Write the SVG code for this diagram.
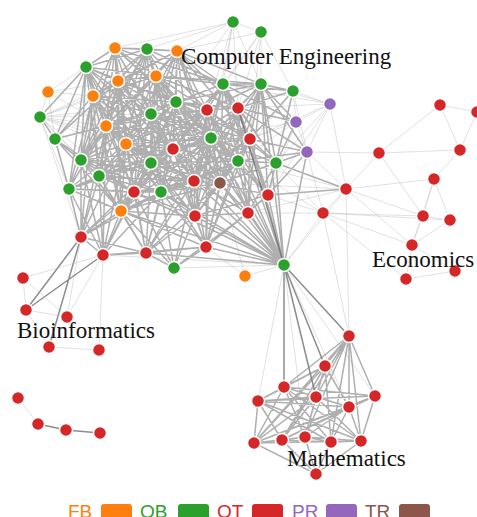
<svg xmlns="http://www.w3.org/2000/svg" width="477" height="517" viewBox="0 0 477 517">
<style>
.d{fill:none;stroke:#7a7a7a;stroke-opacity:.6;stroke-width:1.5}
.l{fill:none;stroke:#aaa;stroke-opacity:.35;stroke-width:1}
.m{fill:none;stroke:#666;stroke-opacity:.75;stroke-width:1.5}
circle{stroke:#fff;stroke-width:1.5}
.fb{fill:#ff7f0e}.ob{fill:#2ca02c}.ot{fill:#d62728}.pr{fill:#9467bd}.tr{fill:#8c564b}
.lab{font-family:"Liberation Serif","Times New Roman",serif;font-size:23px;fill:#111}
.leg{font-family:"Liberation Sans",Arial,sans-serif;font-size:19px}
</style>
<rect width="477" height="517" fill="#fff"/>
<g id="connectors">
<path class="d" d="M115 48L177 51M115 48L118 81M115 48L156 76M115 48L147 49M115 48L86 67M115 48L93 96M115 48L106 126M115 48L126 144M115 48L176 102M115 48L151 114M115 48L173 149M115 48L81 160M115 48L207 110M115 48L223 84M115 48L121 211M115 48L134 192M115 48L151 163M115 48L211 138
M177 51L147 49M177 51L156 76M177 51L223 84M177 51L261 84M177 51L176 102M177 51L207 110M177 51L238 108M177 51L151 114M177 51L118 81M177 51L93 96M177 51L173 149M177 51L211 138M177 51L126 144M177 51L250 139M177 51L106 126M177 51L194 181M177 51L151 163M177 51L220 183
M147 49L156 76M147 49L118 81M147 49L93 96M147 49L176 102M147 49L151 114M147 49L207 110M147 49L106 126M147 49L126 144M147 49L81 160M147 49L173 149M147 49L223 84M147 49L134 192M147 49L99 176M147 49L86 67
M86 67L118 81M86 67L93 96M86 67L106 126M86 67L40 117M86 67L55 139M86 67L81 160M86 67L156 76M86 67L151 114M86 67L126 144M86 67L176 102M86 67L173 149M86 67L99 176M86 67L69 189M86 67L134 192M86 67L151 163
M118 81L156 76M118 81L93 96M118 81L106 126M118 81L126 144M118 81L151 114M118 81L176 102M118 81L55 139M118 81L81 160M118 81L173 149M118 81L207 110M118 81L151 163M118 81L99 176M118 81L134 192M118 81L121 211M118 81L211 138M118 81L161 192M118 81L194 181
M156 76L176 102M156 76L151 114M156 76L207 110M156 76L238 108M156 76L223 84M156 76L126 144M156 76L106 126M156 76L93 96M156 76L173 149M156 76L211 138M156 76L151 163M156 76L81 160M156 76L261 84M156 76L250 139M156 76L194 181M156 76L238 161M156 76L220 183M156 76L161 192
M93 96L106 126M93 96L126 144M93 96L151 114M93 96L55 139M93 96L81 160M93 96L99 176M93 96L69 189M93 96L176 102M93 96L173 149M93 96L134 192M93 96L151 163M93 96L121 211M93 96L81 237
M106 126L126 144M106 126L151 114M106 126L55 139M106 126L81 160M106 126L99 176M106 126L69 189M106 126L173 149M106 126L151 163M106 126L134 192M106 126L121 211M106 126L176 102M106 126L207 110M106 126L211 138M106 126L194 181M106 126L161 192M106 126L81 237M106 126L103 255
M126 144L151 114M126 144L81 160M126 144L151 163M126 144L99 176M126 144L173 149M126 144L134 192M126 144L69 189M126 144L121 211M126 144L161 192M126 144L194 181M126 144L195 216M126 144L211 138M126 144L176 102M126 144L207 110M126 144L146 253M126 144L103 255M126 144L81 237M126 144L220 183
M176 102L151 114M176 102L207 110M176 102L238 108M176 102L223 84M176 102L261 84M176 102L173 149M176 102L211 138M176 102L151 163M176 102L250 139M176 102L238 161M176 102L194 181M176 102L220 183M176 102L161 192M176 102L134 192M176 102L99 176M176 102L121 211M176 102L195 216
M151 114L207 110M151 114L173 149M151 114L211 138M151 114L151 163M151 114L194 181M151 114L81 160M151 114L99 176M151 114L134 192M151 114L161 192M151 114L121 211M151 114L238 161M151 114L220 183M151 114L250 139M151 114L195 216M151 114L248 213M151 114L55 139
M223 84L261 84M223 84L207 110M223 84L238 108M223 84L211 138M223 84L250 139M223 84L238 161M223 84L293 91M223 84L173 149M223 84L151 163M223 84L194 181M223 84L220 183M223 84L268 195M223 84L276 163M223 84L296 122
M261 84L293 91M261 84L238 108M261 84L250 139M261 84L238 161M261 84L276 163M261 84L207 110M261 84L211 138M261 84L268 195M261 84L194 181M261 84L220 183M261 84L296 122M261 84L307 152M261 84L248 213
M207 110L238 108M207 110L211 138M207 110L173 149M207 110L250 139M207 110L151 163M207 110L194 181M207 110L220 183M207 110L238 161M207 110L276 163M207 110L134 192M207 110L161 192M207 110L195 216M207 110L248 213M207 110L268 195M207 110L121 211M207 110L99 176M207 110L206 247
M238 108L211 138M238 108L250 139M238 108L238 161M238 108L276 163M238 108L194 181M238 108L220 183M238 108L268 195M238 108L248 213M238 108L173 149M238 108L151 163M238 108L195 216M238 108L293 91M238 108L296 122M238 108L307 152M238 108L206 247
M211 138L173 149M211 138L250 139M211 138L151 163M211 138L238 161M211 138L194 181M211 138L220 183M211 138L161 192M211 138L134 192M211 138L195 216M211 138L248 213M211 138L268 195M211 138L276 163M211 138L99 176M211 138L121 211M211 138L206 247M211 138L146 253
M173 149L151 163M173 149L194 181M173 149L220 183M173 149L161 192M173 149L134 192M173 149L99 176M173 149L81 160M173 149L121 211M173 149L195 216M173 149L238 161M173 149L250 139M173 149L146 253M173 149L206 247M173 149L69 189M173 149L81 237
M250 139L238 161M250 139L276 163M250 139L194 181M250 139L220 183M250 139L268 195M250 139L248 213M250 139L195 216M250 139L307 152M250 139L293 91M250 139L161 192M250 139L206 247M250 139L284 265
M151 163L194 181M151 163L161 192M151 163L134 192M151 163L99 176M151 163L81 160M151 163L121 211M151 163L195 216M151 163L220 183M151 163L238 161M151 163L146 253M151 163L103 255M151 163L69 189M151 163L206 247
M81 160L99 176M81 160L69 189M81 160L134 192M81 160L121 211M81 160L55 139M81 160L81 237M81 160L161 192M81 160L103 255M81 160L194 181
M99 176L69 189M99 176L134 192M99 176L121 211M99 176L161 192M99 176L81 237M99 176L103 255M99 176L146 253M99 176L194 181M99 176L220 183
M238 161L276 163M238 161L220 183M238 161L194 181M238 161L268 195M238 161L248 213M238 161L195 216M238 161L161 192M238 161L206 247M238 161L284 265M238 161L307 152
M194 181L220 183M194 181L161 192M194 181L195 216M194 181L134 192M194 181L121 211M194 181L248 213M194 181L206 247M194 181L146 253M194 181L174 268
M220 183L268 195M220 183L248 213M220 183L195 216M220 183L161 192M220 183L206 247M220 183L276 163M220 183L284 265M220 183L146 253M220 183L121 211
M161 192L134 192M161 192L121 211M161 192L195 216M161 192L146 253M161 192L206 247M161 192L174 268M161 192L103 255M161 192L81 237
M134 192L121 211M134 192L195 216M134 192L146 253M134 192L103 255M134 192L81 237M134 192L69 189M134 192L174 268
M121 211L81 237M121 211L103 255M121 211L146 253M121 211L195 216M121 211L206 247M121 211L174 268M121 211L69 189
M195 216L248 213M195 216L206 247M195 216L146 253M195 216L174 268M195 216L284 265M195 216L268 195
M268 195L248 213M268 195L276 163M268 195L206 247M268 195L284 265M268 195L307 152M268 195L346 189
M248 213L206 247M248 213L284 265M248 213L174 268
M276 163L307 152M276 163L293 91M276 163L296 122M276 163L248 213M276 163L284 265M276 163L346 189
M55 139L40 117M55 139L69 189M55 139L99 176M55 139L121 211M55 139L134 192
M69 189L81 237M69 189L161 192M69 189L103 255
M81 237L103 255M81 237L146 253M103 255L146 253M103 255L206 247M146 253L174 268M146 253L206 247M206 247L174 268M206 247L284 265
M284 265L194 181M284 265L173 149M284 265L211 138M284 265L151 163M284 265L134 192M284 265L121 211M284 265L161 192M284 265L146 253M284 265L207 110M284 265L176 102M284 265L223 84M284 265L307 152M284 265L261 84"/>
<path class="m" d="M238 108L284 265M284 265L349 336M284 265L325 366M284 265L284 387M284 265L316 397M81 237L26 310M103 255L26 310M81 237L49 347M38 424L66 430M66 430L100 433"/>
<path class="l" d="M40 117L86 67M40 117L118 81M40 117L93 96M40 117L106 126M40 117L81 160M40 117L69 189M40 117L156 76M40 117L176 102M40 117L151 114M40 117L173 149M40 117L126 144M40 117L48 92M40 117L99 176M40 117L151 163M40 117L134 192
M48 92L86 67M48 92L93 96M48 92L118 81M48 92L106 126M48 92L55 139
M233 22L261 32M233 22L177 51M233 22L147 49M233 22L115 48M233 22L223 84M233 22L207 110M233 22L261 84M233 22L176 102M233 22L238 108M233 22L211 138
M261 32L177 51M261 32L223 84M261 32L261 84M261 32L238 108M261 32L293 91M261 32L207 110M261 32L250 139
M293 91L330 104M293 91L296 122M293 91L307 152M293 91L238 161M293 91L268 195M293 91L207 110
M330 104L296 122M330 104L307 152M330 104L261 84M330 104L238 108M330 104L276 163M330 104L250 139M330 104L223 84M330 104L346 189M330 104L268 195
M296 122L307 152M296 122L238 161M296 122L250 139M296 122L268 195M296 122L211 138
M307 152L346 189M307 152L323 213M307 152L379 153
M346 189L323 213M346 189L238 161M346 189L284 265M346 189L248 213M346 189L220 183
M323 213L268 195M323 213L248 213M323 213L276 163M323 213L238 161M323 213L284 265
M245 276L284 265M245 276L206 247M245 276L220 183M174 268L284 265M103 255L284 265M55 139L81 237M40 117L81 237
M23 278L26 310M23 278L103 255M23 278L67 317M26 310L67 317M26 310L49 347M49 347L99 350M67 317L81 237M103 255L67 317M103 255L99 350M18 398L38 424
M440 105L477 112M440 105L379 153M440 105L460 150M477 112L460 150M379 153L460 150M379 153L423 216M379 153L346 189M460 150L434 179M434 179L346 189M434 179L423 216M434 179L412 245M434 179L450 220M423 216L412 245M423 216L450 220M423 216L346 189M423 216L323 213M346 189L412 245M323 213L412 245M412 245L406 279M406 279L455 271M412 245L455 271M323 213L406 279M450 220L412 245M323 213L349 336M346 189L349 336M323 213L450 220
M284 265L258 401M284 265L375 396M284 265L349 407M284 265L305 437"/>
<path class="d" d="M349 336L325 366M349 336L284 387M349 336L316 397M349 336L375 396M349 336L349 407M349 336L282 440M349 336L305 437M349 336L331 442M349 336L361 441M349 336L254 443
M325 366L284 387M325 366L316 397M325 366L349 407M325 366L254 443M325 366L282 440M325 366L305 437M325 366L331 442M325 366L258 401
M284 387L258 401M284 387L316 397M284 387L375 396M284 387L349 407M284 387L254 443M284 387L305 437M284 387L331 442M284 387L361 441
M258 401L316 397M258 401L254 443M258 401L282 440M258 401L331 442M258 401L361 441M258 401L349 407M258 401L375 396
M316 397L349 407M316 397L254 443M316 397L282 440M316 397L305 437M316 397L361 441
M375 396L349 407M375 396L254 443M375 396L282 440M375 396L361 441
M349 407L254 443M349 407L282 440M349 407L305 437M349 407L331 442M349 407L361 441
M254 443L282 440M254 443L305 437M254 443L361 441M254 443L316 474
M282 440L305 437M282 440L331 442M282 440L316 474M305 437L331 442M305 437L361 441M305 437L316 474M331 442L361 441M331 442L316 474M361 441L316 474"/>
</g>
<g id="nodes">
<g id="o1"><circle class="fb" cx="115" cy="48" r="6.5"/></g>
<g id="o2"><circle class="fb" cx="177" cy="51" r="6.5"/></g>
<g id="o3"><circle class="fb" cx="118" cy="81" r="6.5"/></g>
<g id="o4"><circle class="fb" cx="156" cy="76" r="6.5"/></g>
<g id="o5"><circle class="fb" cx="48" cy="92" r="6.5"/></g>
<g id="o6"><circle class="fb" cx="93" cy="96" r="6.5"/></g>
<g id="o7"><circle class="fb" cx="106" cy="126" r="6.5"/></g>
<g id="o8"><circle class="fb" cx="126" cy="144" r="6.5"/></g>
<g id="o9"><circle class="fb" cx="121" cy="211" r="6.5"/></g>
<g id="o10"><circle class="fb" cx="245" cy="276" r="6.5"/></g>
<g id="g1"><circle class="ob" cx="233" cy="22" r="6.5"/></g>
<g id="g2"><circle class="ob" cx="261" cy="32" r="6.5"/></g>
<g id="g3"><circle class="ob" cx="147" cy="49" r="6.5"/></g>
<g id="g4"><circle class="ob" cx="86" cy="67" r="6.5"/></g>
<g id="g5"><circle class="ob" cx="223" cy="84" r="6.5"/></g>
<g id="g6"><circle class="ob" cx="261" cy="84" r="6.5"/></g>
<g id="g7"><circle class="ob" cx="293" cy="91" r="6.5"/></g>
<g id="g8"><circle class="ob" cx="176" cy="102" r="6.5"/></g>
<g id="g9"><circle class="ob" cx="40" cy="117" r="6.5"/></g>
<g id="g10"><circle class="ob" cx="151" cy="114" r="6.5"/></g>
<g id="g11"><circle class="ob" cx="55" cy="139" r="6.5"/></g>
<g id="g12"><circle class="ob" cx="211" cy="138" r="6.5"/></g>
<g id="g13"><circle class="ob" cx="81" cy="160" r="6.5"/></g>
<g id="g14"><circle class="ob" cx="151" cy="163" r="6.5"/></g>
<g id="g15"><circle class="ob" cx="238" cy="161" r="6.5"/></g>
<g id="g16"><circle class="ob" cx="276" cy="163" r="6.5"/></g>
<g id="g17"><circle class="ob" cx="99" cy="176" r="6.5"/></g>
<g id="g18"><circle class="ob" cx="69" cy="189" r="6.5"/></g>
<g id="g19"><circle class="ob" cx="161" cy="192" r="6.5"/></g>
<g id="g20"><circle class="ob" cx="174" cy="268" r="6.5"/></g>
<g id="g21"><circle class="ob" cx="284" cy="265" r="6.5"/></g>
<g id="r1"><circle class="ot" cx="207" cy="110" r="6.5"/></g>
<g id="r2"><circle class="ot" cx="238" cy="108" r="6.5"/></g>
<g id="r3"><circle class="ot" cx="173" cy="149" r="6.5"/></g>
<g id="r4"><circle class="ot" cx="250" cy="139" r="6.5"/></g>
<g id="r5"><circle class="ot" cx="194" cy="181" r="6.5"/></g>
<g id="r6"><circle class="ot" cx="134" cy="192" r="6.5"/></g>
<g id="r7"><circle class="ot" cx="195" cy="216" r="6.5"/></g>
<g id="r8"><circle class="ot" cx="268" cy="195" r="6.5"/></g>
<g id="r9"><circle class="ot" cx="248" cy="213" r="6.5"/></g>
<g id="r10"><circle class="ot" cx="81" cy="237" r="6.5"/></g>
<g id="r11"><circle class="ot" cx="103" cy="255" r="6.5"/></g>
<g id="r12"><circle class="ot" cx="146" cy="253" r="6.5"/></g>
<g id="r13"><circle class="ot" cx="206" cy="247" r="6.5"/></g>
<g id="r14"><circle class="ot" cx="346" cy="189" r="6.5"/></g>
<g id="r15"><circle class="ot" cx="323" cy="213" r="6.5"/></g>
<g id="p1"><circle class="pr" cx="330" cy="104" r="6.5"/></g>
<g id="p2"><circle class="pr" cx="296" cy="122" r="6.5"/></g>
<g id="p3"><circle class="pr" cx="307" cy="152" r="6.5"/></g>
<g id="t1"><circle class="tr" cx="220" cy="183" r="6.5"/></g>
<g id="e1"><circle class="ot" cx="440" cy="105" r="6.5"/></g>
<g id="e2"><circle class="ot" cx="477" cy="112" r="6.5"/></g>
<g id="e3"><circle class="ot" cx="379" cy="153" r="6.5"/></g>
<g id="e4"><circle class="ot" cx="460" cy="150" r="6.5"/></g>
<g id="e5"><circle class="ot" cx="434" cy="179" r="6.5"/></g>
<g id="e6"><circle class="ot" cx="423" cy="216" r="6.5"/></g>
<g id="e7"><circle class="ot" cx="450" cy="220" r="6.5"/></g>
<g id="e8"><circle class="ot" cx="412" cy="245" r="6.5"/></g>
<g id="e9"><circle class="ot" cx="406" cy="279" r="6.5"/></g>
<g id="e10"><circle class="ot" cx="455" cy="271" r="6.5"/></g>
<g id="b1"><circle class="ot" cx="23" cy="278" r="6.5"/></g>
<g id="b2"><circle class="ot" cx="26" cy="310" r="6.5"/></g>
<g id="b3"><circle class="ot" cx="67" cy="317" r="6.5"/></g>
<g id="b4"><circle class="ot" cx="49" cy="347" r="6.5"/></g>
<g id="b5"><circle class="ot" cx="99" cy="350" r="6.5"/></g>
<g id="b6"><circle class="ot" cx="18" cy="398" r="6.5"/></g>
<g id="b7"><circle class="ot" cx="38" cy="424" r="6.5"/></g>
<g id="b8"><circle class="ot" cx="66" cy="430" r="6.5"/></g>
<g id="b9"><circle class="ot" cx="100" cy="433" r="6.5"/></g>
<g id="m1"><circle class="ot" cx="349" cy="336" r="6.5"/></g>
<g id="m2"><circle class="ot" cx="325" cy="366" r="6.5"/></g>
<g id="m3"><circle class="ot" cx="284" cy="387" r="6.5"/></g>
<g id="m4"><circle class="ot" cx="258" cy="401" r="6.5"/></g>
<g id="m5"><circle class="ot" cx="316" cy="397" r="6.5"/></g>
<g id="m6"><circle class="ot" cx="375" cy="396" r="6.5"/></g>
<g id="m7"><circle class="ot" cx="349" cy="407" r="6.5"/></g>
<g id="m8"><circle class="ot" cx="254" cy="443" r="6.5"/></g>
<g id="m9"><circle class="ot" cx="282" cy="440" r="6.5"/></g>
<g id="m10"><circle class="ot" cx="305" cy="437" r="6.5"/></g>
<g id="m11"><circle class="ot" cx="331" cy="442" r="6.5"/></g>
<g id="m12"><circle class="ot" cx="361" cy="441" r="6.5"/></g>
<g id="m13"><circle class="ot" cx="316" cy="474" r="6.5"/></g>
</g>
<g id="labels">
<text class="lab" x="181" y="64">Computer Engineering</text>
<text class="lab" x="372" y="267">Economics</text>
<text class="lab" x="17" y="338">Bioinformatics</text>
<text class="lab" x="287" y="466">Mathematics</text>
</g>
<g id="legend">
<text class="leg" x="68" y="518" fill="#ff7f0e">FB</text><rect x="101" y="504" width="31" height="20" rx="3" class="fb"/>
<text class="leg" x="140" y="518" fill="#2ca02c">OB</text><rect x="178" y="504" width="31" height="20" rx="3" class="ob"/>
<text class="leg" x="217" y="518" fill="#d62728">OT</text><rect x="252" y="504" width="31" height="20" rx="3" class="ot"/>
<text class="leg" x="292" y="518" fill="#9467bd">PR</text><rect x="326" y="504" width="31" height="20" rx="3" class="pr"/>
<text class="leg" x="365" y="518" fill="#8c564b">TR</text><rect x="399" y="504" width="31" height="20" rx="3" class="tr"/>
</g>
</svg>
